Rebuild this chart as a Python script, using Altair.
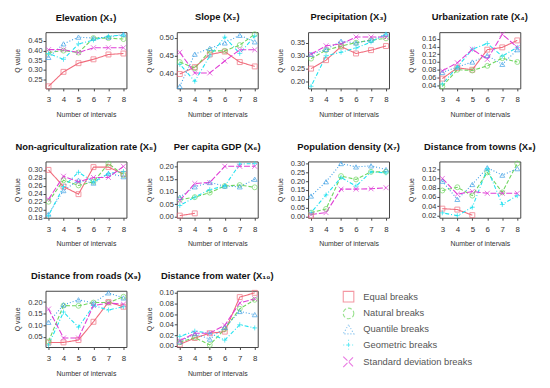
import altair as alt
import pandas as pd

X = [3, 4, 5, 6, 7, 8]
METHODS = ["Equal breaks", "Natural breaks", "Quantile breaks", "Geometric breaks", "Standard deviation breaks"]
COLORS = ["#F06C7C", "#6FD65F", "#3D9FE6", "#22E2F0", "#E03FD6"]
SHAPES = ["square", "circle", "triangle-up", "M-1,0L1,0M0,-1L0,1", "M-1,-1L1,1M-1,1L1,-1"]
DASHES = [[1, 0], [4, 2], [1, 2], [1, 2, 4, 2], [6, 2]]

TITLES = ["Elevation (X₁)", "Slope (X₂)", "Precipitation (X₃)", "Urbanization rate (X₄)",
          "Non-agriculturalization rate (X₅)", "Per capita GDP (X₆)", "Population density (X₇)",
          "Distance from towns (X₈)", "Distance from roads (X₉)", "Distance from water (X₁₀)"]

# order of series: Equal, Natural, Quantile, Geometric, Standard deviation
elevation = [[0.215, 0.29, 0.335, 0.355, 0.38, 0.385],
             [0.39, 0.40, 0.39, 0.465, 0.465, 0.46],
             [0.365, 0.435, 0.47, 0.465, 0.47, 0.485],
             [0.385, 0.355, 0.435, 0.455, 0.475, 0.48],
             [0.405, 0.405, 0.39, 0.415, 0.415, 0.415]]
slope = [[0.40, 0.419, 0.454, 0.462, 0.433, 0.421],
         [0.433, 0.416, 0.464, 0.464, 0.48, 0.51],
         [0.366, 0.455, 0.471, 0.486, 0.507, 0.489],
         [0.427, 0.38, 0.45, 0.502, 0.457, 0.505],
         [0.46, 0.403, 0.403, 0.436, 0.467, 0.467]]
precipitation = [[0.249, 0.282, 0.335, 0.308, 0.321, 0.337],
                 [0.288, 0.321, 0.337, 0.35, 0.36, 0.367],
                 [0.305, 0.324, 0.356, 0.349, 0.36, 0.383],
                 [0.18, 0.299, 0.313, 0.329, 0.353, 0.383],
                 [0.305, 0.338, 0.345, 0.372, 0.372, 0.372]]
urbanization = [[0.057, 0.085, 0.08, 0.132, 0.138, 0.156],
                [0.037, 0.08, 0.078, 0.09, 0.11, 0.10],
                [0.073, 0.087, 0.10, 0.117, 0.094, 0.132],
                [0.043, 0.087, 0.133, 0.148, 0.115, 0.138],
                [0.077, 0.098, 0.133, 0.107, 0.172, 0.138]]
nonagri = [[0.30, 0.258, 0.239, 0.307, 0.307, 0.29],
           [0.22, 0.274, 0.261, 0.27, 0.316, 0.287],
           [0.189, 0.248, 0.274, 0.267, 0.291, 0.283],
           [0.185, 0.258, 0.294, 0.27, 0.291, 0.296],
           [0.226, 0.284, 0.27, 0.281, 0.281, 0.309]]
gdp = [[0.005, 0.014, None, None, None, None],
       [0.068, 0.078, 0.096, 0.122, 0.126, 0.117],
       [0.078, 0.119, 0.136, 0.122, 0.119, 0.149],
       [0.045, 0.078, 0.108, 0.122, 0.209, 0.211],
       [0.065, 0.132, 0.136, 0.20, 0.20, 0.20]]
population = [[0.005, None, None, None, None, None],
              [0.022, 0.043, 0.229, 0.21, 0.253, 0.253],
              [0.116, 0.197, 0.30, 0.281, 0.287, 0.266],
              [0.022, 0.122, 0.221, 0.172, 0.253, 0.247],
              [0.011, 0.022, 0.155, 0.155, 0.157, 0.163]]
towns = [[0.035, 0.033, 0.021, None, None, None],
         [0.074, 0.081, 0.063, 0.113, 0.07, 0.132],
         [0.094, 0.055, 0.087, 0.123, 0.107, 0.121],
         [0.026, 0.02, 0.038, 0.121, 0.044, 0.063],
         [0.10, 0.066, 0.072, 0.068, 0.068, 0.068]]
roads = [[0.025, 0.026, 0.036, 0.115, 0.20, 0.18],
         [0.03, 0.185, 0.184, 0.198, 0.198, 0.223],
         [0.113, 0.188, 0.21, 0.196, 0.24, 0.218],
         [0.015, 0.157, 0.092, 0.185, 0.166, 0.18],
         [0.17, 0.045, 0.045, 0.185, 0.196, 0.191]]
water = [[0.003, 0.015, 0.024, 0.027, 0.092, 0.10],
         [0.007, 0.016, 0.002, 0.032, 0.07, 0.087],
         [0.008, 0.023, 0.013, 0.035, 0.065, 0.059],
         [0.018, 0.028, 0.024, 0.011, 0.04, 0.034],
         [0.01, 0.024, 0.024, 0.039, 0.081, 0.089]]

TICKS = [[0.25, 0.30, 0.35, 0.40, 0.45],
         [0.40, 0.45, 0.50],
         [0.20, 0.25, 0.30, 0.35],
         [0.04, 0.06, 0.08, 0.10, 0.12, 0.14, 0.16],
         [0.18, 0.20, 0.22, 0.24, 0.26, 0.28, 0.30],
         [0.00, 0.05, 0.10, 0.15, 0.20],
         [0.00, 0.05, 0.10, 0.15, 0.20, 0.25, 0.30],
         [0.02, 0.04, 0.06, 0.08, 0.10, 0.12],
         [0.05, 0.10, 0.15, 0.20],
         [0.00, 0.02, 0.04, 0.06, 0.08, 0.10]]

SERIES = [elevation, slope, precipitation, urbanization, nonagri, gdp, population, towns, roads, water]

cscale = alt.Scale(domain=METHODS, range=COLORS)
sscale = alt.Scale(domain=METHODS, range=SHAPES)
dscale = alt.Scale(domain=METHODS, range=DASHES)

LEG = alt.Legend(title=None, orient="none", legendX=301, legendY=262, symbolSize=115,
                 symbolStrokeWidth=1.1, labelFontSize=9.5, labelColor="#555",
                 labelFont="Liberation Sans", rowPadding=1, labelOffset=9)


def panel(title, series, ticks):
    rows = []
    for m, vals in zip(METHODS, series):
        for xv, v in zip(X, vals):
            if v is not None:
                rows.append({"n": xv, "q": v, "method": m})
    df = pd.DataFrame(rows)
    lo, hi = df["q"].min(), df["q"].max()
    ext = (hi - lo) * 0.04
    y = alt.Y("q:Q", scale=alt.Scale(domain=[lo - ext, hi + ext], nice=False, zero=False),
              axis=alt.Axis(values=ticks, format=".2f", title="Q value"))
    x = alt.X("n:Q", scale=alt.Scale(domain=[2.8, 8.2], nice=False, zero=False),
              axis=alt.Axis(values=X, format="d", title="Number of intervals"))
    base = alt.Chart(df).encode(x=x, y=y)
    lines = base.mark_line(strokeWidth=1.1).encode(
        color=alt.Color("method:N", scale=cscale, legend=LEG),
        strokeDash=alt.StrokeDash("method:N", scale=dscale, legend=None),
    )
    pts = base.mark_point(filled=False, size=25, strokeWidth=1).encode(
        color=alt.Color("method:N", scale=cscale, legend=LEG),
        shape=alt.Shape("method:N", scale=sscale, legend=LEG),
    )
    return alt.layer(lines, pts).properties(
        width=82, height=57,
        title=alt.TitleParams(title, fontSize=9.5, fontWeight="bold", font="Liberation Sans", offset=8, color="#111"))


panels = [panel(t, s, k) for t, s, k in zip(TITLES, SERIES, TICKS)]

chart = alt.concat(*panels, columns=4, bounds="flush", spacing={"row": 74, "column": 51}).configure_view(
    stroke="#444", strokeWidth=1
).configure_axis(
    domain=False, grid=False, ticks=True, tickSize=2.5, tickColor="#444",
    labelFontSize=7.5, labelColor="#333", labelFont="Liberation Sans",
    titleFontSize=7, titleFontWeight="normal", titleColor="#333", titleFont="Liberation Sans",
).configure_axisX(labelPadding=5, titlePadding=7, labelAngle=0, labelFontSize=8
).configure_axisY(labelPadding=1, titlePadding=7).properties(
    background="white", padding={"left": 5, "top": 1, "right": 5, "bottom": 5})

chart.save("out.html", embed_options={"renderer": "svg", "actions": False})
